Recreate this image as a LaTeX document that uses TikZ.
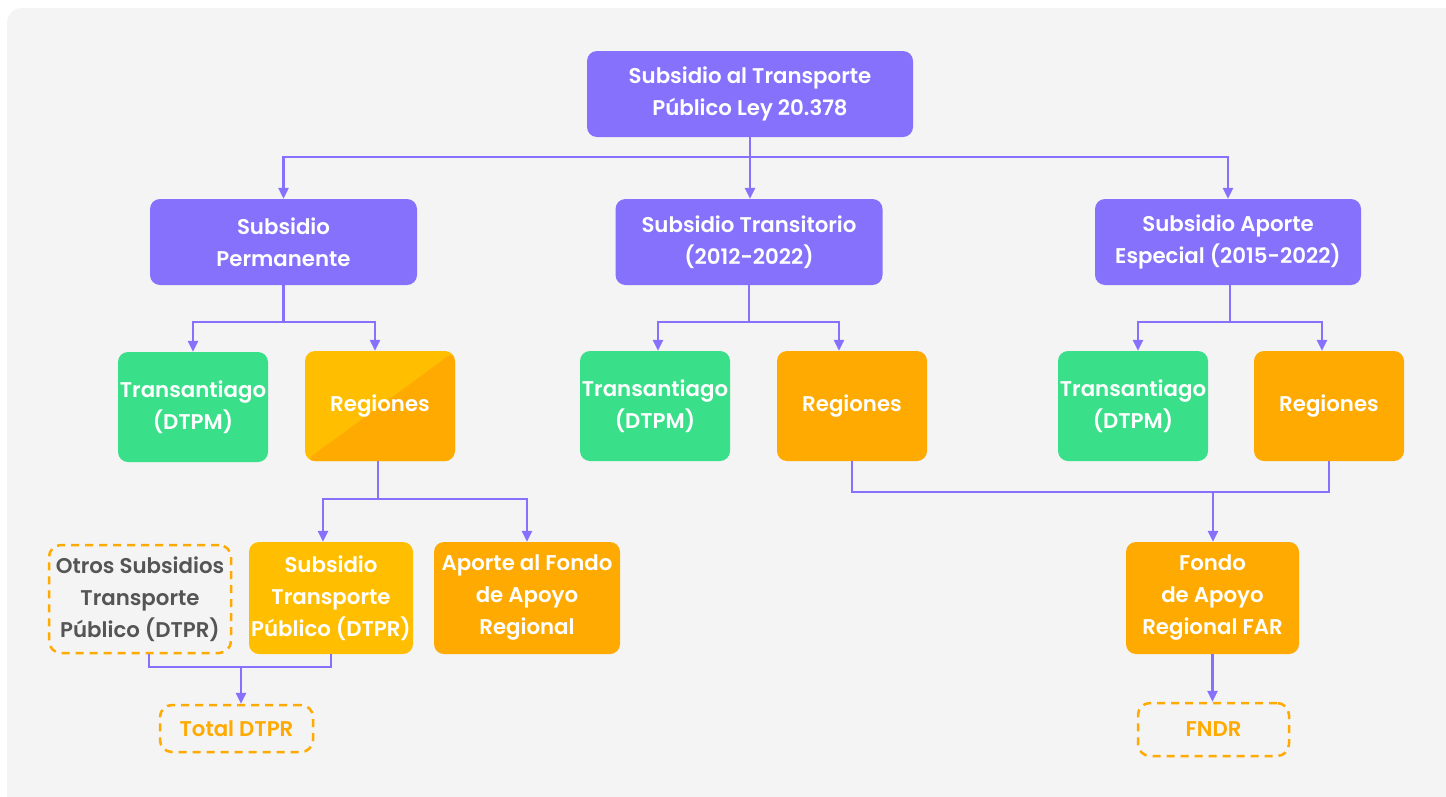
\documentclass[tikz,border=0pt]{standalone}
\usepackage{fontspec}
\setmainfont{Poppins}[BoldFont={Poppins SemiBold}]
\usetikzlibrary{positioning,arrows.meta}

\definecolor{bgGray}{HTML}{F4F4F4}
\definecolor{boxPurple}{HTML}{8571FC}
\definecolor{boxGreen}{HTML}{3ADF8A}
\definecolor{boxOrange}{HTML}{FFAA00}
\definecolor{boxYellow}{HTML}{FFBF00}
\definecolor{textGray}{HTML}{555555}

\tikzset{
  box/.style={rounded corners=10pt, text=white, align=center, inner sep=0pt,
    font=\bfseries\fontsize{21.3}{32}\selectfont},
  purplebox/.style={box, fill=boxPurple, minimum width=267pt, minimum height=86pt},
  greenbox/.style={box, fill=boxGreen, minimum width=150pt, minimum height=110pt},
  orangebox/.style={box, fill=boxOrange, minimum width=150pt, minimum height=110pt},
  yellowbox/.style={box, fill=boxYellow, minimum width=150pt, minimum height=110pt},
  splitbox/.style={yellowbox, path picture={
      \fill[boxOrange] (path picture bounding box.north east) -- (path picture bounding box.south east)
        -- (path picture bounding box.south west) -- cycle;}},
  dashbox/.style={box, draw=boxOrange, line width=2.5pt, dash pattern=on 8pt off 6pt,
    rounded corners=12pt},
  link/.style={draw=boxPurple, line width=2.5pt, -{Triangle[length=11pt,width=10pt]}},
  joint/.style={draw=boxPurple, line width=2.5pt},
}

\begin{document}
\begin{tikzpicture}[x=1pt,y=-1pt]
  \useasboundingbox (0,0) rectangle (1446,796);
  \fill[bgGray, rounded corners=15pt] (7,8) rectangle (1480,830);

  % top level
  \node[purplebox, minimum width=326pt] (Top) at (750,94) {Subsidio al Transporte\\Público Ley 20.378};

  \node[purplebox] (Perm) at (283.5,242) {Subsidio\\Permanente};
  \node[purplebox] (Trans) at (749,242) {Subsidio Transitorio\\(2012-2022)};
  \node[purplebox, minimum width=266pt] (Esp) at (1228,242) {Subsidio Aporte\\Especial (2015-2022)};

  % third level
  \node[greenbox] (TsL) at (193,407) {Transantiago\\(DTPM)};
  \node[splitbox] (RgL) at (380,406) {Regiones};
  \node[greenbox] (TsM) at (655,406) {Transantiago\\(DTPM)};
  \node[orangebox] (RgM) at (852,406) {Regiones};
  \node[greenbox] (TsR) at (1133,406) {Transantiago\\(DTPM)};
  \node[orangebox] (RgR) at (1329,406) {Regiones};

  % fourth level
  \node[dashbox, text=textGray, minimum width=182pt, minimum height=108pt] (Otros) at (140,599)
    {Otros Subsidios\\Transporte\\Público (DTPR)};
  \node[yellowbox, minimum width=164pt, minimum height=112pt] (SubT) at (331,598)
    {Subsidio\\Transporte\\Público (DTPR)};
  \node[orangebox, minimum width=186pt, minimum height=112pt] (Apo) at (527,598)
    {Aporte al Fondo\\de Apoyo\\Regional};
  \node[orangebox, minimum width=173pt, minimum height=112pt] (FAR) at (1212.5,598)
    {Fondo\\de Apoyo\\Regional FAR};

  \node[dashbox, text=boxOrange, minimum width=153pt, minimum height=47pt] (Total) at (236.5,728.5) {Total DTPR};
  \node[dashbox, text=boxOrange, minimum width=151pt, minimum height=53pt] (FNDR) at (1213.5,729.5) {FNDR};

  \coordinate (J1) at (241,667);
  \coordinate (J2) at (1213,492);

  % connectors
  \draw[link] (Top.south) -- ++(0,20) -| (Perm.north);
  \draw[link] (Top.south) -- ++(0,20) -| (Esp.north);
  \draw[link] (Top.south) -- (Top.south |- Trans.north);

  \draw[link] (Perm.south) -- ++(0,37) -| (TsL.north);
  \draw[link] (Perm.south) -- ++(0,37) -| ([xshift=-5pt]RgL.north);
  \draw[link] (Trans.south) -- ++(0,37) -| ([xshift=3pt]TsM.north);
  \draw[link] (Trans.south) -- ++(0,37) -| ([xshift=-13pt]RgM.north);
  \draw[link] ([xshift=2pt]Esp.south) -- ++(0,37) -| ([xshift=5pt]TsR.north);
  \draw[link] ([xshift=2pt]Esp.south) -- ++(0,37) -| ([xshift=-7pt]RgR.north);

  \draw[link] ([xshift=-2pt]RgL.south) -- ++(0,38) -| ([xshift=-8pt]SubT.north);
  \draw[link] ([xshift=-2pt]RgL.south) -- ++(0,38) -| (Apo.north);

  \draw[joint] ([xshift=9pt]Otros.south) |- (J1) -| (SubT.south);
  \draw[link] (J1) -- (J1 |- Total.north);

  \draw[joint] (RgM.south) |- (J2) -| (RgR.south);
  \draw[link] (J2) -- (J2 |- FAR.north);
  \draw[link] (FAR.south) -- (FAR.south |- FNDR.north);
\end{tikzpicture}
\end{document}
